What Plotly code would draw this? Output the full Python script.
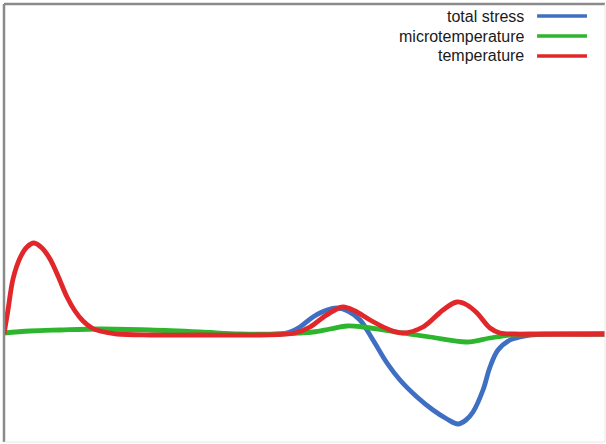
import plotly.graph_objects as go

# position along the specimen (arbitrary units) and normalized field values
stress_x = [196, 276, 286, 296, 309, 323, 334, 344, 356, 369, 383, 396, 413, 429, 443, 454, 462, 469, 479, 486, 494, 506, 516, 526, 541, 601]
stress_y = [0, 0, 0.02, 0.07, 0.17, 0.24, 0.26, 0.23, 0.14, -0.06, -0.29, -0.46, -0.63, -0.76, -0.85, -0.90, -0.86, -0.78, -0.56, -0.33, -0.16, -0.06, -0.03, -0.01, 0, 0]

micro_x = [0, 26, 56, 96, 146, 196, 236, 276, 296, 309, 326, 343, 359, 393, 426, 463, 486, 506, 526, 601]
micro_y = [0.01, 0.03, 0.04, 0.05, 0.04, 0.02, 0, 0, 0.01, 0.02, 0.05, 0.08, 0.07, 0.02, -0.03, -0.08, -0.04, -0.01, 0, 0]

temp_x = [0, 4, 9, 16, 23, 30, 38, 46, 54, 63, 71, 79, 88, 96, 113, 146, 196, 256, 291, 306, 321, 331, 339, 351, 366, 386, 399, 419, 439, 453, 463, 473, 486, 496, 511, 601]
temp_y = [0, 0.24, 0.55, 0.76, 0.87, 0.91, 0.86, 0.75, 0.58, 0.37, 0.23, 0.13, 0.06, 0.03, 0, -0.01, -0.01, -0.01, 0.01, 0.07, 0.18, 0.24, 0.27, 0.23, 0.14, 0.04, 0.01, 0.07, 0.24, 0.32, 0.29, 0.21, 0.06, 0.01, 0, 0]

series_names = ["total stress", "microtemperature", "temperature"]
series_colors = ["#3f6fc2", "#2db52d", "#e1272a"]

fig = go.Figure()
for name, xs, ys, col in zip(series_names, [stress_x, micro_x, temp_x], [stress_y, micro_y, temp_y], series_colors):
    fig.add_trace(go.Scatter(x=xs, y=ys, mode="lines", name=name,
                             line=dict(color=col, width=4.8, shape="spline", smoothing=1.0),
                             showlegend=False))

# manual legend (text on left, line sample on right)
rows_y = [0.9726, 0.9269, 0.8813]
for name, col, yy in zip(series_names, series_colors, rows_y):
    fig.add_annotation(x=0.8686, y=yy, xref="paper", yref="paper", text=name,
                       showarrow=False, xanchor="right", yanchor="middle",
                       font=dict(family="Liberation Sans, Arial, sans-serif", size=16, color="#1a1a1a"))
    fig.add_shape(type="line", xref="paper", yref="paper", x0=0.887, x1=0.970, y0=yy, y1=yy,
                  line=dict(color=col, width=3.5))

# frame
fig.add_shape(type="line", xref="paper", yref="paper", x0=0, x1=1, y0=1, y1=1, line=dict(color="#8a8a8a", width=2.5))
fig.add_shape(type="line", xref="paper", yref="paper", x0=0, x1=0, y0=0, y1=1, line=dict(color="#8a8a8a", width=2.5))
fig.add_shape(type="line", xref="paper", yref="paper", x0=0, x1=1, y0=0, y1=0, line=dict(color="#e8e8e8", width=1))
fig.add_shape(type="line", xref="paper", yref="paper", x0=1, x1=1, y0=0, y1=1, line=dict(color="#e8e8e8", width=1))

fig.update_xaxes(range=[0, 601], showgrid=False, zeroline=False, showticklabels=False, ticks="")
fig.update_yaxes(range=[-1.08, 3.30], showgrid=False, zeroline=False, showticklabels=False, ticks="")
fig.update_layout(width=606, height=444, margin=dict(l=4, r=1, t=4, b=2),
                  paper_bgcolor="white", plot_bgcolor="white")

fig.write_html("out.html", config={"displayModeBar": False},
               post_script="document.body.style.margin='0px';document.body.style.overflow='hidden';")
